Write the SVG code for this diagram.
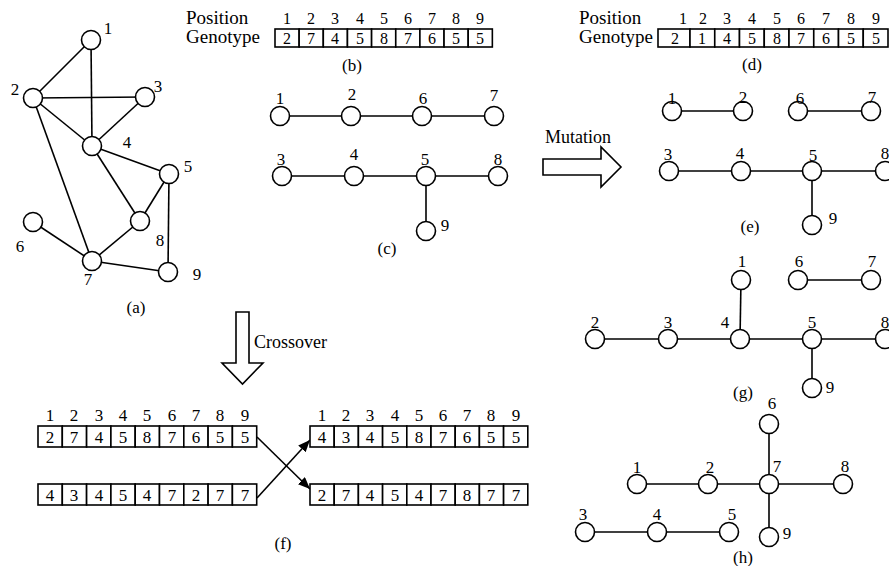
<svg xmlns="http://www.w3.org/2000/svg" width="889" height="566" viewBox="0 0 889 566">
<style>
text{font-family:"Liberation Serif","Times New Roman",serif;font-size:17px;fill:#000;text-anchor:middle}
.w{font-size:18px;text-anchor:start}
.g text{font-size:16px}
.g text.hd{font-size:19px;text-anchor:start}
.e line{stroke:#000;stroke-width:1.6}
circle{fill:#fff;stroke:#000;stroke-width:1.6}
rect{fill:#fff;stroke:#000;stroke-width:1.6}
.ar{fill:#fff;stroke:#000;stroke-width:1.6}
</style>
<defs>
<marker id="ah" viewBox="0 0 12 10" refX="12" refY="5" markerWidth="12" markerHeight="10" markerUnits="userSpaceOnUse" orient="auto"><path d="M0,0 L12,5 L0,10 Z" fill="#000"/></marker>
</defs>

<!-- (a) -->
<g class="e" id="a-edges">
<line x1="91" y1="40" x2="33" y2="98"/><line x1="91" y1="40" x2="92" y2="146"/>
<line x1="33" y1="98" x2="145" y2="97"/><line x1="33" y1="98" x2="92" y2="146"/>
<line x1="33" y1="98" x2="92" y2="261"/><line x1="145" y1="97" x2="92" y2="146"/>
<line x1="92" y1="146" x2="169" y2="174"/><line x1="92" y1="146" x2="140" y2="221"/>
<line x1="169" y1="174" x2="140" y2="221"/><line x1="169" y1="174" x2="168" y2="272"/>
<line x1="33" y1="222" x2="92" y2="261"/><line x1="92" y1="261" x2="140" y2="221"/>
<line x1="92" y1="261" x2="168" y2="272"/>
</g>
<g id="a1"><circle cx="91" cy="40" r="9.5"/><text x="108" y="34">1</text></g>
<g id="a2"><circle cx="33" cy="98" r="9.5"/><text x="15" y="95">2</text></g>
<g id="a3"><circle cx="145" cy="97" r="9.5"/><text x="158" y="92">3</text></g>
<g id="a4"><circle cx="92" cy="146" r="9.5"/><text x="127" y="148">4</text></g>
<g id="a5"><circle cx="169" cy="174" r="9.5"/><text x="188" y="172">5</text></g>
<g id="a6"><circle cx="33" cy="222" r="9.5"/><text x="20" y="252">6</text></g>
<g id="a7"><circle cx="92" cy="261" r="9.5"/><text x="88" y="285">7</text></g>
<g id="a8"><circle cx="140" cy="221" r="9.5"/><text x="160" y="246">8</text></g>
<g id="a9"><circle cx="168" cy="272" r="9.5"/><text x="197" y="280">9</text></g>
<text x="136" y="313">(a)</text>

<!-- (b) -->
<g id="b" class="g">
<text class="hd" x="186" y="24">Position</text>
<text class="hd" x="186" y="43">Genotype</text>
<rect x="275" y="29" width="24.15" height="18"/><rect x="299.15" y="29" width="24.15" height="18"/><rect x="323.3" y="29" width="24.15" height="18"/>
<rect x="347.45" y="29" width="24.15" height="18"/><rect x="371.6" y="29" width="24.15" height="18"/><rect x="395.75" y="29" width="24.15" height="18"/>
<rect x="419.9" y="29" width="24.15" height="18"/><rect x="444.05" y="29" width="24.15" height="18"/><rect x="468.2" y="29" width="24.15" height="18"/>
<text x="287" y="24">1</text><text x="311" y="24">2</text><text x="335" y="24">3</text><text x="360" y="24">4</text><text x="384" y="24">5</text><text x="408" y="24">6</text><text x="432" y="24">7</text><text x="456" y="24">8</text><text x="480" y="24">9</text>
<text x="287" y="44">2</text><text x="311" y="44">7</text><text x="335" y="44">4</text><text x="360" y="44">5</text><text x="384" y="44">8</text><text x="408" y="44">7</text><text x="432" y="44">6</text><text x="456" y="44">5</text><text x="480" y="44">5</text>
</g>
<text x="352" y="71">(b)</text>

<!-- (c) -->
<g class="e" id="c-edges">
<line x1="280" y1="116" x2="351" y2="116"/><line x1="351" y1="116" x2="422" y2="116"/><line x1="422" y1="116" x2="494" y2="116"/>
<line x1="282" y1="176" x2="354" y2="176"/><line x1="354" y1="176" x2="426" y2="176"/><line x1="426" y1="176" x2="498" y2="176"/>
<line x1="426" y1="176" x2="426" y2="231"/>
</g>
<g id="c1"><circle cx="280" cy="116" r="9.5"/><text x="280" y="104">1</text></g>
<g id="c2"><circle cx="351" cy="116" r="9.5"/><text x="352" y="100">2</text></g>
<g id="c6"><circle cx="422" cy="116" r="9.5"/><text x="423" y="104">6</text></g>
<g id="c7"><circle cx="494" cy="116" r="9.5"/><text x="494" y="101">7</text></g>
<g id="c3"><circle cx="282" cy="176" r="9.5"/><text x="281" y="165">3</text></g>
<g id="c4"><circle cx="354" cy="176" r="9.5"/><text x="354" y="160">4</text></g>
<g id="c5"><circle cx="426" cy="176" r="9.5"/><text x="425" y="165">5</text></g>
<g id="c8"><circle cx="498" cy="176" r="9.5"/><text x="498" y="165">8</text></g>
<g id="c9"><circle cx="426" cy="231" r="9.5"/><text x="445" y="231">9</text></g>
<text x="387" y="254">(c)</text>

<!-- Mutation arrow -->
<g id="mutation">
<polygon class="ar" points="543,159 601,159 601,147 621,167 601,187 601,175 543,175"/>
<text class="w" x="545" y="143">Mutation</text>
</g>

<!-- (d) -->
<g id="d" class="g">
<text class="hd" x="579" y="24">Position</text>
<text class="hd" x="579" y="43">Genotype</text>
<rect x="658" y="29" width="32" height="18"/><rect x="690" y="29" width="24.75" height="18"/><rect x="714.75" y="29" width="24.75" height="18"/>
<rect x="739.5" y="29" width="24.75" height="18"/><rect x="764.25" y="29" width="24.75" height="18"/><rect x="789" y="29" width="24.75" height="18"/>
<rect x="813.75" y="29" width="24.75" height="18"/><rect x="838.5" y="29" width="24.75" height="18"/><rect x="863.25" y="29" width="24.75" height="18"/>
<text x="683" y="24">1</text><text x="703" y="24">2</text><text x="727" y="24">3</text><text x="752" y="24">4</text><text x="777" y="24">5</text><text x="801" y="24">6</text><text x="826" y="24">7</text><text x="851" y="24">8</text><text x="876" y="24">9</text>
<text x="675" y="44">2</text><text x="702" y="44">1</text><text x="727" y="44">4</text><text x="752" y="44">5</text><text x="777" y="44">8</text><text x="801" y="44">7</text><text x="826" y="44">6</text><text x="851" y="44">5</text><text x="876" y="44">5</text>
</g>
<text x="752" y="70">(d)</text>

<!-- (e) -->
<g class="e" id="e-edges">
<line x1="672" y1="111" x2="743" y2="111"/><line x1="798" y1="111" x2="871" y2="111"/>
<line x1="669" y1="171" x2="741" y2="171"/><line x1="741" y1="171" x2="812" y2="171"/><line x1="812" y1="171" x2="885" y2="171"/>
<line x1="812" y1="171" x2="812" y2="225"/>
</g>
<g id="e1"><circle cx="672" cy="111" r="9.5"/><text x="672" y="104">1</text></g>
<g id="e2"><circle cx="743" cy="111" r="9.5"/><text x="743" y="103">2</text></g>
<g id="e6"><circle cx="798" cy="111" r="9.5"/><text x="800" y="104">6</text></g>
<g id="e7"><circle cx="871" cy="111" r="9.5"/><text x="872" y="103">7</text></g>
<g id="e3"><circle cx="669" cy="171" r="9.5"/><text x="668" y="160">3</text></g>
<g id="e4"><circle cx="741" cy="171" r="9.5"/><text x="740" y="159">4</text></g>
<g id="e5"><circle cx="812" cy="171" r="9.5"/><text x="813" y="161">5</text></g>
<g id="e8"><circle cx="885" cy="171" r="9.5"/><text x="885" y="159">8</text></g>
<g id="e9"><circle cx="812" cy="225" r="9.5"/><text x="833" y="224">9</text></g>
<text x="750" y="232">(e)</text>

<!-- (g) -->
<g class="e" id="g-edges">
<line x1="741" y1="280" x2="740" y2="339"/><line x1="798" y1="280" x2="871" y2="280"/>
<line x1="595" y1="339" x2="668" y2="339"/><line x1="668" y1="339" x2="740" y2="339"/><line x1="740" y1="339" x2="812" y2="339"/><line x1="812" y1="339" x2="885" y2="339"/>
<line x1="812" y1="339" x2="812" y2="388"/>
</g>
<g id="g1"><circle cx="741" cy="280" r="9.5"/><text x="742" y="267">1</text></g>
<g id="g6"><circle cx="798" cy="280" r="9.5"/><text x="799" y="267">6</text></g>
<g id="g7"><circle cx="871" cy="280" r="9.5"/><text x="872" y="267">7</text></g>
<g id="g2"><circle cx="595" cy="339" r="9.5"/><text x="595" y="328">2</text></g>
<g id="g3"><circle cx="668" cy="339" r="9.5"/><text x="668" y="328">3</text></g>
<g id="g4"><circle cx="740" cy="339" r="9.5"/><text x="725" y="328">4</text></g>
<g id="g5"><circle cx="812" cy="339" r="9.5"/><text x="812" y="328">5</text></g>
<g id="g8"><circle cx="885" cy="339" r="9.5"/><text x="885" y="328">8</text></g>
<g id="g9"><circle cx="812" cy="388" r="9.5"/><text x="830" y="393">9</text></g>
<text x="743" y="398">(g)</text>

<!-- (h) -->
<g class="e" id="h-edges">
<line x1="769" y1="424" x2="769" y2="484"/><line x1="637" y1="484" x2="708" y2="484"/><line x1="708" y1="484" x2="769" y2="484"/>
<line x1="769" y1="484" x2="843" y2="484"/><line x1="769" y1="484" x2="769" y2="537"/>
<line x1="585" y1="532" x2="657" y2="532"/><line x1="657" y1="532" x2="729" y2="532"/>
</g>
<g id="h6"><circle cx="769" cy="424" r="9.5"/><text x="772" y="409">6</text></g>
<g id="h7"><circle cx="769" cy="484" r="9.5"/><text x="777" y="472">7</text></g>
<g id="h1"><circle cx="637" cy="484" r="9.5"/><text x="637" y="473">1</text></g>
<g id="h2"><circle cx="708" cy="484" r="9.5"/><text x="710" y="473">2</text></g>
<g id="h8"><circle cx="843" cy="484" r="9.5"/><text x="845" y="472">8</text></g>
<g id="h9"><circle cx="769" cy="537" r="9.5"/><text x="787" y="539">9</text></g>
<g id="h3"><circle cx="585" cy="532" r="9.5"/><text x="583" y="520">3</text></g>
<g id="h4"><circle cx="657" cy="532" r="9.5"/><text x="657" y="520">4</text></g>
<g id="h5"><circle cx="729" cy="532" r="9.5"/><text x="732" y="520">5</text></g>
<text x="743" y="563">(h)</text>

<!-- Crossover arrow -->
<g id="crossover">
<polygon class="ar" points="236,312 249,312 249,363 263,363 242.5,384 222,363 236,363"/>
<text class="w" x="254" y="348">Crossover</text>
</g>

<!-- (f) -->
<g id="f-left">
<text x="50" y="421">1</text><text x="74" y="421">2</text><text x="99" y="421">3</text><text x="123" y="421">4</text><text x="147" y="421">5</text><text x="172" y="421">6</text><text x="196" y="421">7</text><text x="220" y="421">8</text><text x="245" y="421">9</text>
<rect x="38" y="426" width="24.3" height="21"/><rect x="62.3" y="426" width="24.3" height="21"/><rect x="86.6" y="426" width="24.3" height="21"/>
<rect x="110.9" y="426" width="24.3" height="21"/><rect x="135.2" y="426" width="24.3" height="21"/><rect x="159.5" y="426" width="24.3" height="21"/>
<rect x="183.8" y="426" width="24.3" height="21"/><rect x="208.1" y="426" width="24.3" height="21"/><rect x="232.4" y="426" width="24.3" height="21"/>
<text x="50" y="443">2</text><text x="74" y="443">7</text><text x="99" y="443">4</text><text x="123" y="443">5</text><text x="147" y="443">8</text><text x="172" y="443">7</text><text x="196" y="443">6</text><text x="220" y="443">5</text><text x="245" y="443">5</text>
<rect x="38" y="484" width="24.3" height="21"/><rect x="62.3" y="484" width="24.3" height="21"/><rect x="86.6" y="484" width="24.3" height="21"/>
<rect x="110.9" y="484" width="24.3" height="21"/><rect x="135.2" y="484" width="24.3" height="21"/><rect x="159.5" y="484" width="24.3" height="21"/>
<rect x="183.8" y="484" width="24.3" height="21"/><rect x="208.1" y="484" width="24.3" height="21"/><rect x="232.4" y="484" width="24.3" height="21"/>
<text x="50" y="501">4</text><text x="74" y="501">3</text><text x="99" y="501">4</text><text x="123" y="501">5</text><text x="147" y="501">4</text><text x="172" y="501">7</text><text x="196" y="501">2</text><text x="220" y="501">7</text><text x="245" y="501">7</text>
</g>
<g class="e" id="f-connectors">
<line x1="257" y1="437" x2="310" y2="489" marker-end="url(#ah)"/>
<line x1="257" y1="498" x2="310" y2="440" marker-end="url(#ah)"/>
</g>
<g id="f-right">
<text x="322" y="421">1</text><text x="346" y="421">2</text><text x="370" y="421">3</text><text x="395" y="421">4</text><text x="419" y="421">5</text><text x="443" y="421">6</text><text x="467" y="421">7</text><text x="491" y="421">8</text><text x="516" y="421">9</text>
<rect x="310" y="426" width="24.2" height="21"/><rect x="334.2" y="426" width="24.2" height="21"/><rect x="358.4" y="426" width="24.2" height="21"/>
<rect x="382.6" y="426" width="24.2" height="21"/><rect x="406.8" y="426" width="24.2" height="21"/><rect x="431" y="426" width="24.2" height="21"/>
<rect x="455.2" y="426" width="24.2" height="21"/><rect x="479.4" y="426" width="24.2" height="21"/><rect x="503.6" y="426" width="24.2" height="21"/>
<text x="322" y="443">4</text><text x="346" y="443">3</text><text x="370" y="443">4</text><text x="395" y="443">5</text><text x="419" y="443">8</text><text x="443" y="443">7</text><text x="467" y="443">6</text><text x="491" y="443">5</text><text x="516" y="443">5</text>
<rect x="310" y="484" width="24.2" height="21"/><rect x="334.2" y="484" width="24.2" height="21"/><rect x="358.4" y="484" width="24.2" height="21"/>
<rect x="382.6" y="484" width="24.2" height="21"/><rect x="406.8" y="484" width="24.2" height="21"/><rect x="431" y="484" width="24.2" height="21"/>
<rect x="455.2" y="484" width="24.2" height="21"/><rect x="479.4" y="484" width="24.2" height="21"/><rect x="503.6" y="484" width="24.2" height="21"/>
<text x="322" y="501">2</text><text x="346" y="501">7</text><text x="370" y="501">4</text><text x="395" y="501">5</text><text x="419" y="501">4</text><text x="443" y="501">7</text><text x="467" y="501">8</text><text x="491" y="501">7</text><text x="516" y="501">7</text>
</g>
<text x="283" y="549">(f)</text>
</svg>
